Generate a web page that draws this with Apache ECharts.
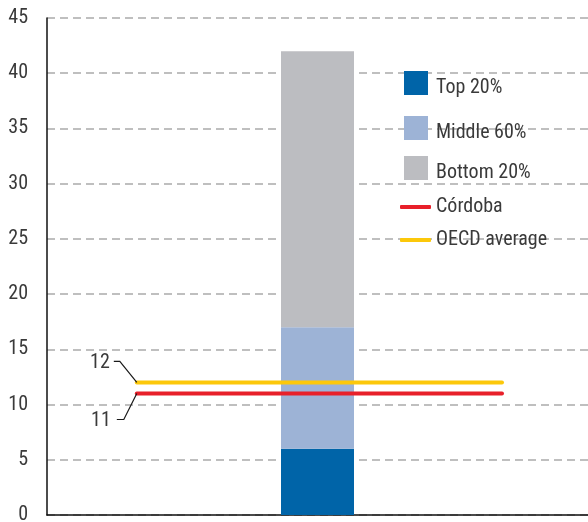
<!DOCTYPE html>
<html>
<head>
<meta charset="utf-8">
<script src="https://cdn.jsdelivr.net/npm/echarts@6/dist/echarts.min.js"></script>
<style>
  html, body { margin: 0; padding: 0; background: #fff; }
  #chart { width: 588px; height: 522px; }
</style>
</head>
<body>
<div id="chart"></div>
<script>
// Single stacked column: share of each income group, plus two reference levels
const categories = ['Córdoba'];
const top20 = [6];       // segment from 0 to 6
const middle60 = [11];   // segment from 6 to 17
const bottom20 = [25];   // segment from 17 to 42
const cordobaLevel = [11];
const oecdLevel = [12];
const yTicks = [0, 5, 10, 15, 20, 25, 30, 35, 40, 45];

const FONT = '"Roboto Condensed", "Liberation Sans Narrow", Roboto, sans-serif';
const TEXT = '#3a3a3a';
// horizontal extent of the reference lines, in percent of plot width
const LINE_SPAN = [16.6, 84.1];
// square swatch sitting in the upper part of a taller box, so its label reads slightly lower
const SWATCH = 'path://M0,0h24v24h-24z M0,34h0.01v0.01h-0.01z';

const chart = echarts.init(document.getElementById('chart'), null, { renderer: 'canvas' });

function lineData(v) {
  return [[LINE_SPAN[0], v[0]], [LINE_SPAN[1], v[0]]];
}

const squareLegend = (name, top) => ({
  data: [name], left: 399, top: top, orient: 'vertical',
  icon: SWATCH, itemWidth: 24, itemHeight: 34, itemGap: 8,
  selectedMode: false,
  textStyle: { fontFamily: FONT, fontSize: 20, color: TEXT, padding: [0, 0, 0, 3] }
});
const lineLegend = (name, top) => ({
  data: [name], left: 395, top: top, orient: 'vertical',
  icon: 'roundRect', itemWidth: 31, itemHeight: 4, itemGap: 5,
  selectedMode: false,
  textStyle: { fontFamily: FONT, fontSize: 20, color: TEXT }
});

chart.setOption({
  animation: false,
  backgroundColor: '#fff',
  grid: { left: 47, right: 0, top: 18, bottom: 7, containLabel: false, outerBoundsMode: 'none' },
  legend: [
    squareLegend('Top 20%', 66),
    squareLegend('Middle 60%', 111),
    squareLegend('Bottom 20%', 151),
    lineLegend('Córdoba', 192),
    lineLegend('OECD average', 225)
  ],
  xAxis: [
    {
      type: 'category', data: categories,
      axisLine: { show: true, lineStyle: { color: '#111', width: 1.5 } },
      axisTick: { show: false }, axisLabel: { show: false },
      splitLine: { show: false }
    },
    {
      type: 'value', min: 0, max: 100, show: false
    }
  ],
  yAxis: {
    type: 'value', min: yTicks[0], max: yTicks[yTicks.length - 1], interval: 5,
    axisLine: { show: true, lineStyle: { color: '#111', width: 1.5 } },
    axisTick: { show: false },
    axisLabel: { fontFamily: FONT, fontSize: 20, color: TEXT, margin: 19 },
    splitLine: { show: true, lineStyle: { color: '#aaaaaa', type: [8, 5], width: 1.5 } }
  },
  series: [
    { name: 'Top 20%', type: 'bar', stack: 'share', data: top20, barWidth: 73,
      itemStyle: { color: '#0064a8' } },
    { name: 'Middle 60%', type: 'bar', stack: 'share', data: middle60, barWidth: 73,
      itemStyle: { color: '#9db3d6' } },
    { name: 'Bottom 20%', type: 'bar', stack: 'share', data: bottom20, barWidth: 73,
      itemStyle: { color: '#bcbdc1' } },
    { name: 'Córdoba', type: 'line', xAxisIndex: 1, data: lineData(cordobaLevel),
      symbol: 'none', z: 5, color: '#e8202a',
      lineStyle: { color: '#e8202a', width: 4, cap: 'round' } },
    { name: 'OECD average', type: 'line', xAxisIndex: 1, data: lineData(oecdLevel),
      symbol: 'none', z: 5, color: '#fcc80a',
      lineStyle: { color: '#fcc80a', width: 4, cap: 'round' } }
  ]
});

// value callouts with leader lines at the left end of each reference line
const hi = Math.max(oecdLevel[0], cordobaLevel[0]);
const lo = Math.min(oecdLevel[0], cordobaLevel[0]);
const pHi = chart.convertToPixel({ xAxisIndex: 1, yAxisIndex: 0 }, [LINE_SPAN[0], hi]);
const pLo = chart.convertToPixel({ xAxisIndex: 1, yAxisIndex: 0 }, [LINE_SPAN[0], lo]);
const leaderStyle = { stroke: '#1a1a1a', lineWidth: 1.2, fill: null };
const labelStyle = (txt, x, y) => ({
  type: 'text', x: x, y: y,
  style: { text: String(txt), font: '20px ' + FONT, fill: TEXT, align: 'right', verticalAlign: 'middle' }
});
chart.setOption({
  graphic: [
    { type: 'polyline', shape: { points: [[pHi[0] - 23, pHi[1] - 21], [pHi[0] - 17, pHi[1] - 21], pHi] },
      style: leaderStyle, z: 10 },
    labelStyle(hi, pHi[0] - 27, pHi[1] - 19),
    { type: 'polyline', shape: { points: [[pLo[0] - 20, pLo[1] + 26], [pLo[0] - 13, pLo[1] + 26], pLo] },
      style: leaderStyle, z: 10 },
    labelStyle(lo, pLo[0] - 26, pLo[1] + 27)
  ]
});
</script>
</body>
</html>
